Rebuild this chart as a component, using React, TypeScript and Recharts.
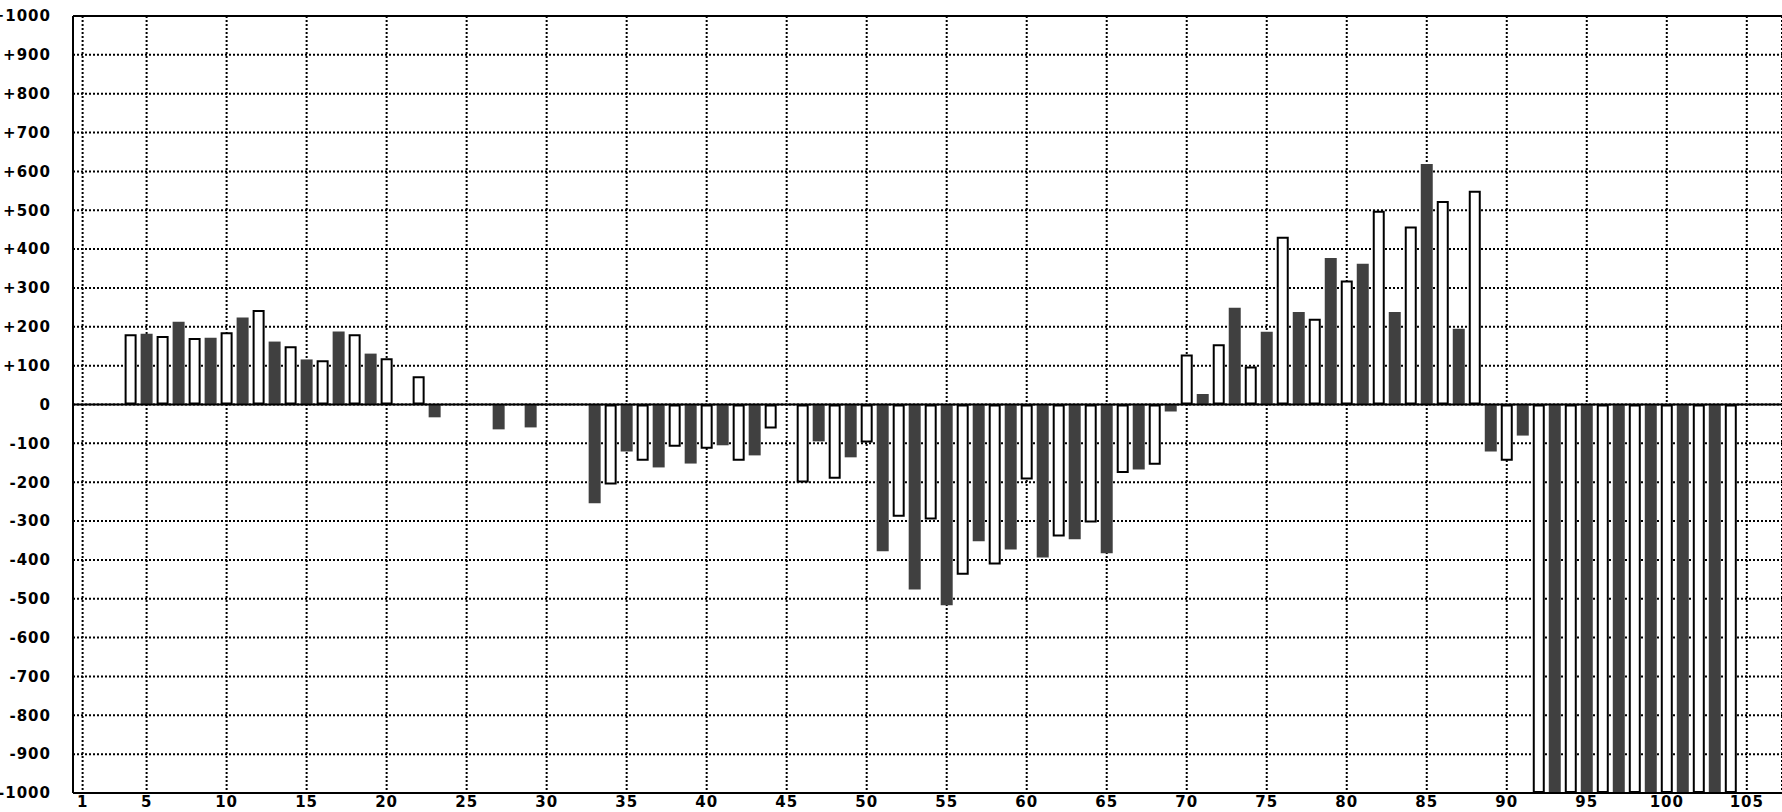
import {
	Bar,
	BarChart,
	CartesianGrid,
	Rectangle,
	ReferenceLine,
	XAxis,
	YAxis,
} from 'recharts'

// one value per position 1..104 (0 = nothing drawn)
const values = [
	0, 0, 0, 181, 182, 176, 213, 171, 172, 186,
	224, 243, 162, 150, 116, 114, 188, 181, 131, 119,
	0, 73, -33, 0, 0, 0, -64, 0, -59, 0,
	0, 0, -254, -206, -121, -145, -162, -109, -152, -114,
	-105, -145, -131, -62, 0, -201, -95, -191, -136, -98,
	-378, -289, -476, -296, -517, -438, -352, -412, -373, -193,
	-394, -340, -347, -304, -383, -176, -167, -155, -18, 129,
	27, 155, 249, 98, 187, 432, 238, 221, 377, 319,
	362, 499, 238, 458, 619, 524, 195, 550, -121, -145,
	-80, -1000, -1000, -1000, -1000, -1000, -1000, -1000, -1000, -1000,
	-1000, -1000, -1000, -1000,
]
const positions = values.map((_, i) => i + 1)
const xTicks = [1, 5, 10, 15, 20, 25, 30, 35, 40, 45, 50, 55, 60, 65, 70, 75, 80, 85, 90, 95, 100, 105]
const yTicks = [
	-1000, -900, -800, -700, -600, -500, -400, -300, -200, -100,
	0, 100, 200, 300, 400, 500, 600, 700, 800, 900, 1000,
]

const data = positions.map((pos, i) => ({ pos, value: values[i] }))

const DARK = '#404040'
const tickStyle = {
	fontSize: 15,
	fontWeight: 'bold',
	fill: '#000',
	fontFamily: 'DejaVu Sans',
	letterSpacing: 1,
}

function BarShape(props: any) {
	const { x, y, width, height, pos } = props
	if (!height) return null
	const top = Math.min(y, y + height)
	const h = Math.abs(height)
	if (pos % 2 === 1) {
		return <Rectangle x={x} y={top} width={width} height={h} fill={DARK} />
	}
	return (
		<Rectangle
			x={x + 1}
			y={top + 1}
			width={width - 2}
			height={Math.max(h - 2, 0)}
			fill="#fff"
			stroke="#000"
			strokeWidth={2}
		/>
	)
}

export default function App() {
	return (
		<div style={{ position: 'absolute', left: 0, top: 0, background: '#fff' }}>
			<BarChart
				width={1782}
				height={812}
				data={data}
				margin={{ top: 16, right: 0, bottom: 0, left: 0 }}
			>
				<CartesianGrid
					stroke="#000"
					strokeWidth={2}
					strokeDasharray="2 2"
				/>
				<XAxis
					dataKey="pos"
					type="number"
					domain={[0.4, 107.2]}
					ticks={xTicks}
					interval={0}
					height={19}
					tick={tickStyle}
					tickLine={false}
					tickSize={0}
					tickMargin={3}
					axisLine={{ stroke: '#000', strokeWidth: 2 }}
					allowDataOverflow
				/>
				<YAxis
					type="number"
					domain={[-1000, 1000]}
					ticks={yTicks}
					interval={0}
					width={73}
					tick={tickStyle}
					tickLine={false}
					tickSize={0}
					tickMargin={22}
					axisLine={{ stroke: '#000', strokeWidth: 2 }}
					tickFormatter={(v: number) => (v > 0 ? `+${v}` : `${v}`)}
					allowDataOverflow
				/>
				<Bar
					dataKey="value"
					barSize={12}
					isAnimationActive={false}
					shape={BarShape}
				/>
				<ReferenceLine y={0} stroke="#000" strokeWidth={2} />
				<ReferenceLine y={1000} stroke="#000" strokeWidth={2} />
			</BarChart>
		</div>
	)
}
